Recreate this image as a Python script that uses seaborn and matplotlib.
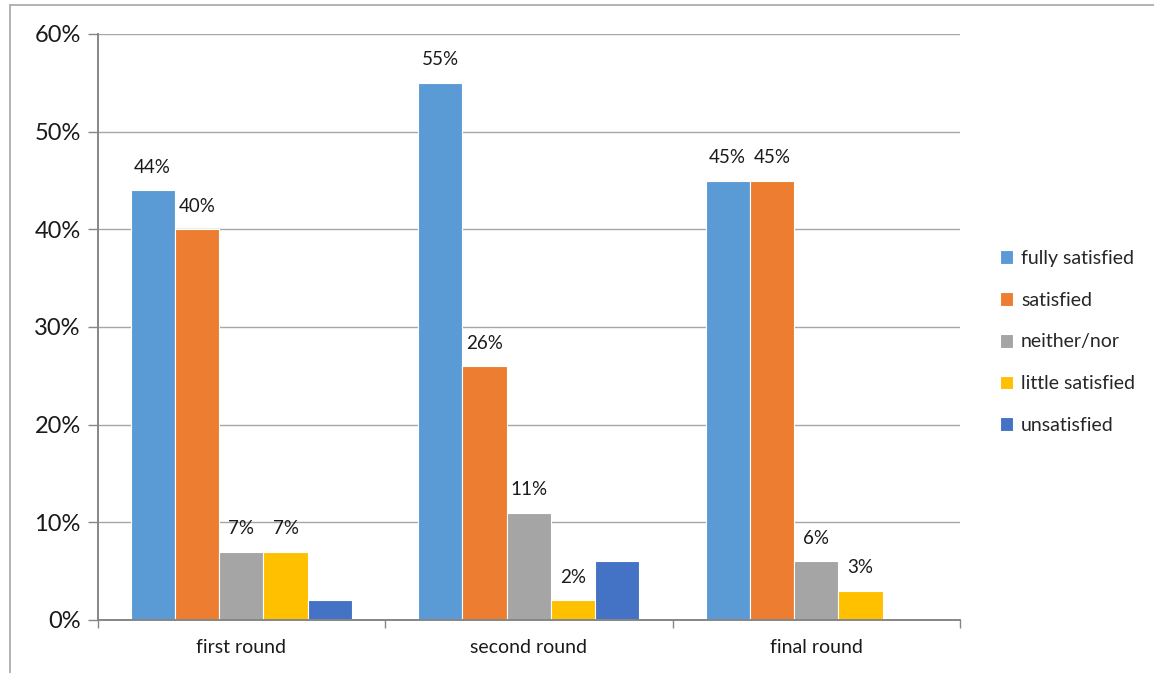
import matplotlib
matplotlib.use("Agg")
import matplotlib.pyplot as plt
from matplotlib.lines import Line2D
from matplotlib.ticker import FuncFormatter, FixedLocator
import seaborn as sns
import pandas as pd

rounds = ["first round", "second round", "final round"]
levels = ["fully satisfied", "satisfied", "neither/nor", "little satisfied", "unsatisfied"]
fully_satisfied = [44, 55, 45]
satisfied = [40, 26, 45]
neither_nor = [7, 11, 6]
little_satisfied = [7, 2, 3]
unsatisfied = [2, 6, 0]
labelled_levels = ["fully satisfied", "satisfied", "neither/nor", "little satisfied"]
colors = ["#5B9BD5", "#ED7D31", "#A5A5A5", "#FFC000", "#4472C4"]
y_ticks = [0, 10, 20, 30, 40, 50, 60]

series = [fully_satisfied, satisfied, neither_nor, little_satisfied, unsatisfied]
rows = []
for lvl, vals in zip(levels, series):
    for r, v in zip(rounds, vals):
        rows.append({"round": r, "level": lvl, "value": v})
df = pd.DataFrame(rows)

sns.set_style("white")
plt.rcParams["font.family"] = ["Lato", "DejaVu Sans"]

fig = plt.figure(figsize=(11.54, 6.73), dpi=100)
ax = fig.add_axes([97.5 / 1154, 1 - 620 / 673, (960 - 97.5) / 1154, (620 - 34) / 673])

sns.barplot(data=df, x="round", y="value", hue="level", order=rounds,
            hue_order=levels, palette=colors, width=0.77, ax=ax,
            edgecolor="white", linewidth=0.8, errorbar=None, saturation=1)

# value labels above the bars (the unsatisfied series is left unlabelled)
for container, lvl in zip(ax.containers, levels):
    if lvl not in labelled_levels:
        continue
    for bar in container:
        h = bar.get_height()
        ax.annotate(f"{h:.0f}%", (bar.get_x() + bar.get_width() / 2, h),
                    xytext=(0, 16.5), textcoords="offset points",
                    ha="center", va="center", fontsize=13.5, color="#1a1a1a")

ax.set_ylim(0, 60)
ax.set_xlim(-0.5, 2.5)
ax.yaxis.set_major_locator(FixedLocator(y_ticks))
ax.yaxis.set_major_formatter(FuncFormatter(lambda v, p: f"{v:.0f}%"))
ax.set_xlabel("")
ax.set_ylabel("")
ax.grid(axis="y", color="#A6A6A6", linewidth=1.0)
ax.set_axisbelow(True)

for s in ["top", "right"]:
    ax.spines[s].set_visible(False)
for s in ["left", "bottom"]:
    ax.spines[s].set_color("#868686")
    ax.spines[s].set_linewidth(1.4)

ax.tick_params(axis="y", which="major", length=7, width=1, color="#868686",
               labelsize=17, pad=5, left=True, labelcolor="#1a1a1a")
ax.tick_params(axis="x", which="major", length=0, labelsize=14, pad=14,
               labelcolor="#1a1a1a")
ax.set_xticks([-0.5, 0.5, 1.5, 2.5], minor=True)
ax.tick_params(axis="x", which="minor", length=6, width=1, color="#868686",
               bottom=True)

handles, labels = ax.get_legend_handles_labels()
ax.legend(handles, labels, loc="center left", bbox_to_anchor=(990 / 1154, 1 - 342 / 673),
          bbox_transform=fig.transFigure, frameon=False, fontsize=14,
          handlelength=0.7, handleheight=0.7, handletextpad=0.4,
          labelspacing=1.27, borderpad=0)

# outer chart frame
fig.add_artist(Line2D([10 / 1154, 10 / 1154], [0, 1 - 4.5 / 673],
                      transform=fig.transFigure, color="#A6A6A6", linewidth=1.2))
fig.add_artist(Line2D([10 / 1154, 1], [1 - 4.5 / 673, 1 - 4.5 / 673],
                      transform=fig.transFigure, color="#A6A6A6", linewidth=1.2))

fig.savefig("out.png", dpi=100)
